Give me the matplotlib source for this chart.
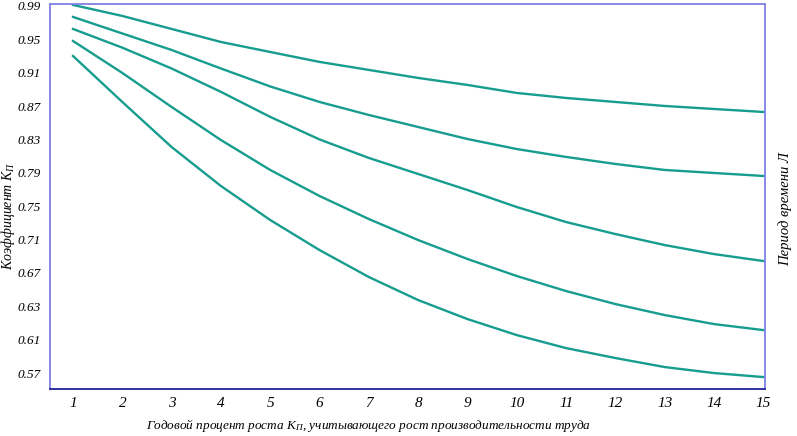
import matplotlib.pyplot as plt

plt.rcParams['font.family'] = ['Liberation Serif', 'DejaVu Serif']
plt.rcParams['mathtext.fontset'] = 'custom'
plt.rcParams['mathtext.rm'] = 'Liberation Serif'
plt.rcParams['mathtext.it'] = 'Liberation Serif:italic'

# годовой процент роста
years = [1, 2, 3, 4, 5, 6, 7, 8, 9, 10, 11, 12, 13, 14, 15]

# кривые коэффициента (в линейной шкале оси)
curve_1 = [0.9912, 0.9780, 0.9624, 0.9468, 0.9348, 0.9229, 0.9133, 0.9037,
           0.8953, 0.8857, 0.8797, 0.8749, 0.8701, 0.8665, 0.8629]
curve_2 = [0.9768, 0.9570, 0.9372, 0.9150, 0.8935, 0.8749, 0.8593, 0.8449,
           0.8305, 0.8185, 0.8090, 0.8006, 0.7934, 0.7898, 0.7862]
curve_3 = [0.9624, 0.9400, 0.9150, 0.8870, 0.8570, 0.8300, 0.8078, 0.7886,
           0.7694, 0.7490, 0.7310, 0.7166, 0.7034, 0.6926, 0.6843]
curve_4 = [0.9480, 0.9097, 0.8689, 0.8293, 0.7934, 0.7622, 0.7346, 0.7094,
           0.6867, 0.6663, 0.6483, 0.6327, 0.6195, 0.6087, 0.6015]
curve_5 = [0.9300, 0.8749, 0.8209, 0.7742, 0.7334, 0.6974, 0.6651, 0.6375,
           0.6147, 0.5955, 0.5799, 0.5680, 0.5572, 0.5500, 0.5452]

# подписи оси Y (как на исходном рисунке)
ytick_pos = [0.99, 0.95, 0.91, 0.87, 0.83, 0.79, 0.75, 0.71, 0.67, 0.63, 0.59, 0.55]
ytick_labels = ['0.99', '0.95', '0.91', '0.87', '0.83', '0.79', '0.75', '0.71',
                '0.67', '0.63', '0.61', '0.57']

fig = plt.figure(figsize=(7.97, 4.36), dpi=100)
ax = fig.add_axes([0.0627, 0.108, 0.8975, 0.883])

line_color = '#169d8f'
for curve in [curve_1, curve_2, curve_3, curve_4, curve_5]:
    ax.plot(years, curve, color=line_color, linewidth=1.7)

ax.set_xlim(0.533, 15.04)
ax.set_ylim(0.531, 0.9924)
ax.set_xticks(years)
ax.set_xticklabels([str(v) for v in years], style='italic', fontsize=11)
ax.set_yticks(ytick_pos)
ax.set_yticklabels(ytick_labels, style='italic', fontsize=9.5)
ax.tick_params(axis='both', length=0)
ax.tick_params(axis='y', pad=7)
ax.tick_params(axis='x', pad=6)

for side in ['left', 'top', 'right']:
    ax.spines[side].set_color('#7f7fe6')
    ax.spines[side].set_linewidth(1.3)
ax.spines['bottom'].set_color('#22229a')
ax.spines['bottom'].set_linewidth(1.3)

fig.text(0.462, 0.025,
         'Годовой процент роста $K_{\\mathit{П}}$, учитывающего рост производительности труда',
         style='italic', fontsize=9.5, ha='center', va='center')
fig.text(0.010, 0.505, 'Коэффициент $K_{\\mathit{П}}$', rotation=90, style='italic',
         fontsize=10, ha='center', va='center')
fig.text(0.985, 0.52, 'Период времени Л', rotation=90, style='italic', fontsize=10.5,
         ha='center', va='center')

plt.savefig('out.png', dpi=100)
plt.close(fig)
